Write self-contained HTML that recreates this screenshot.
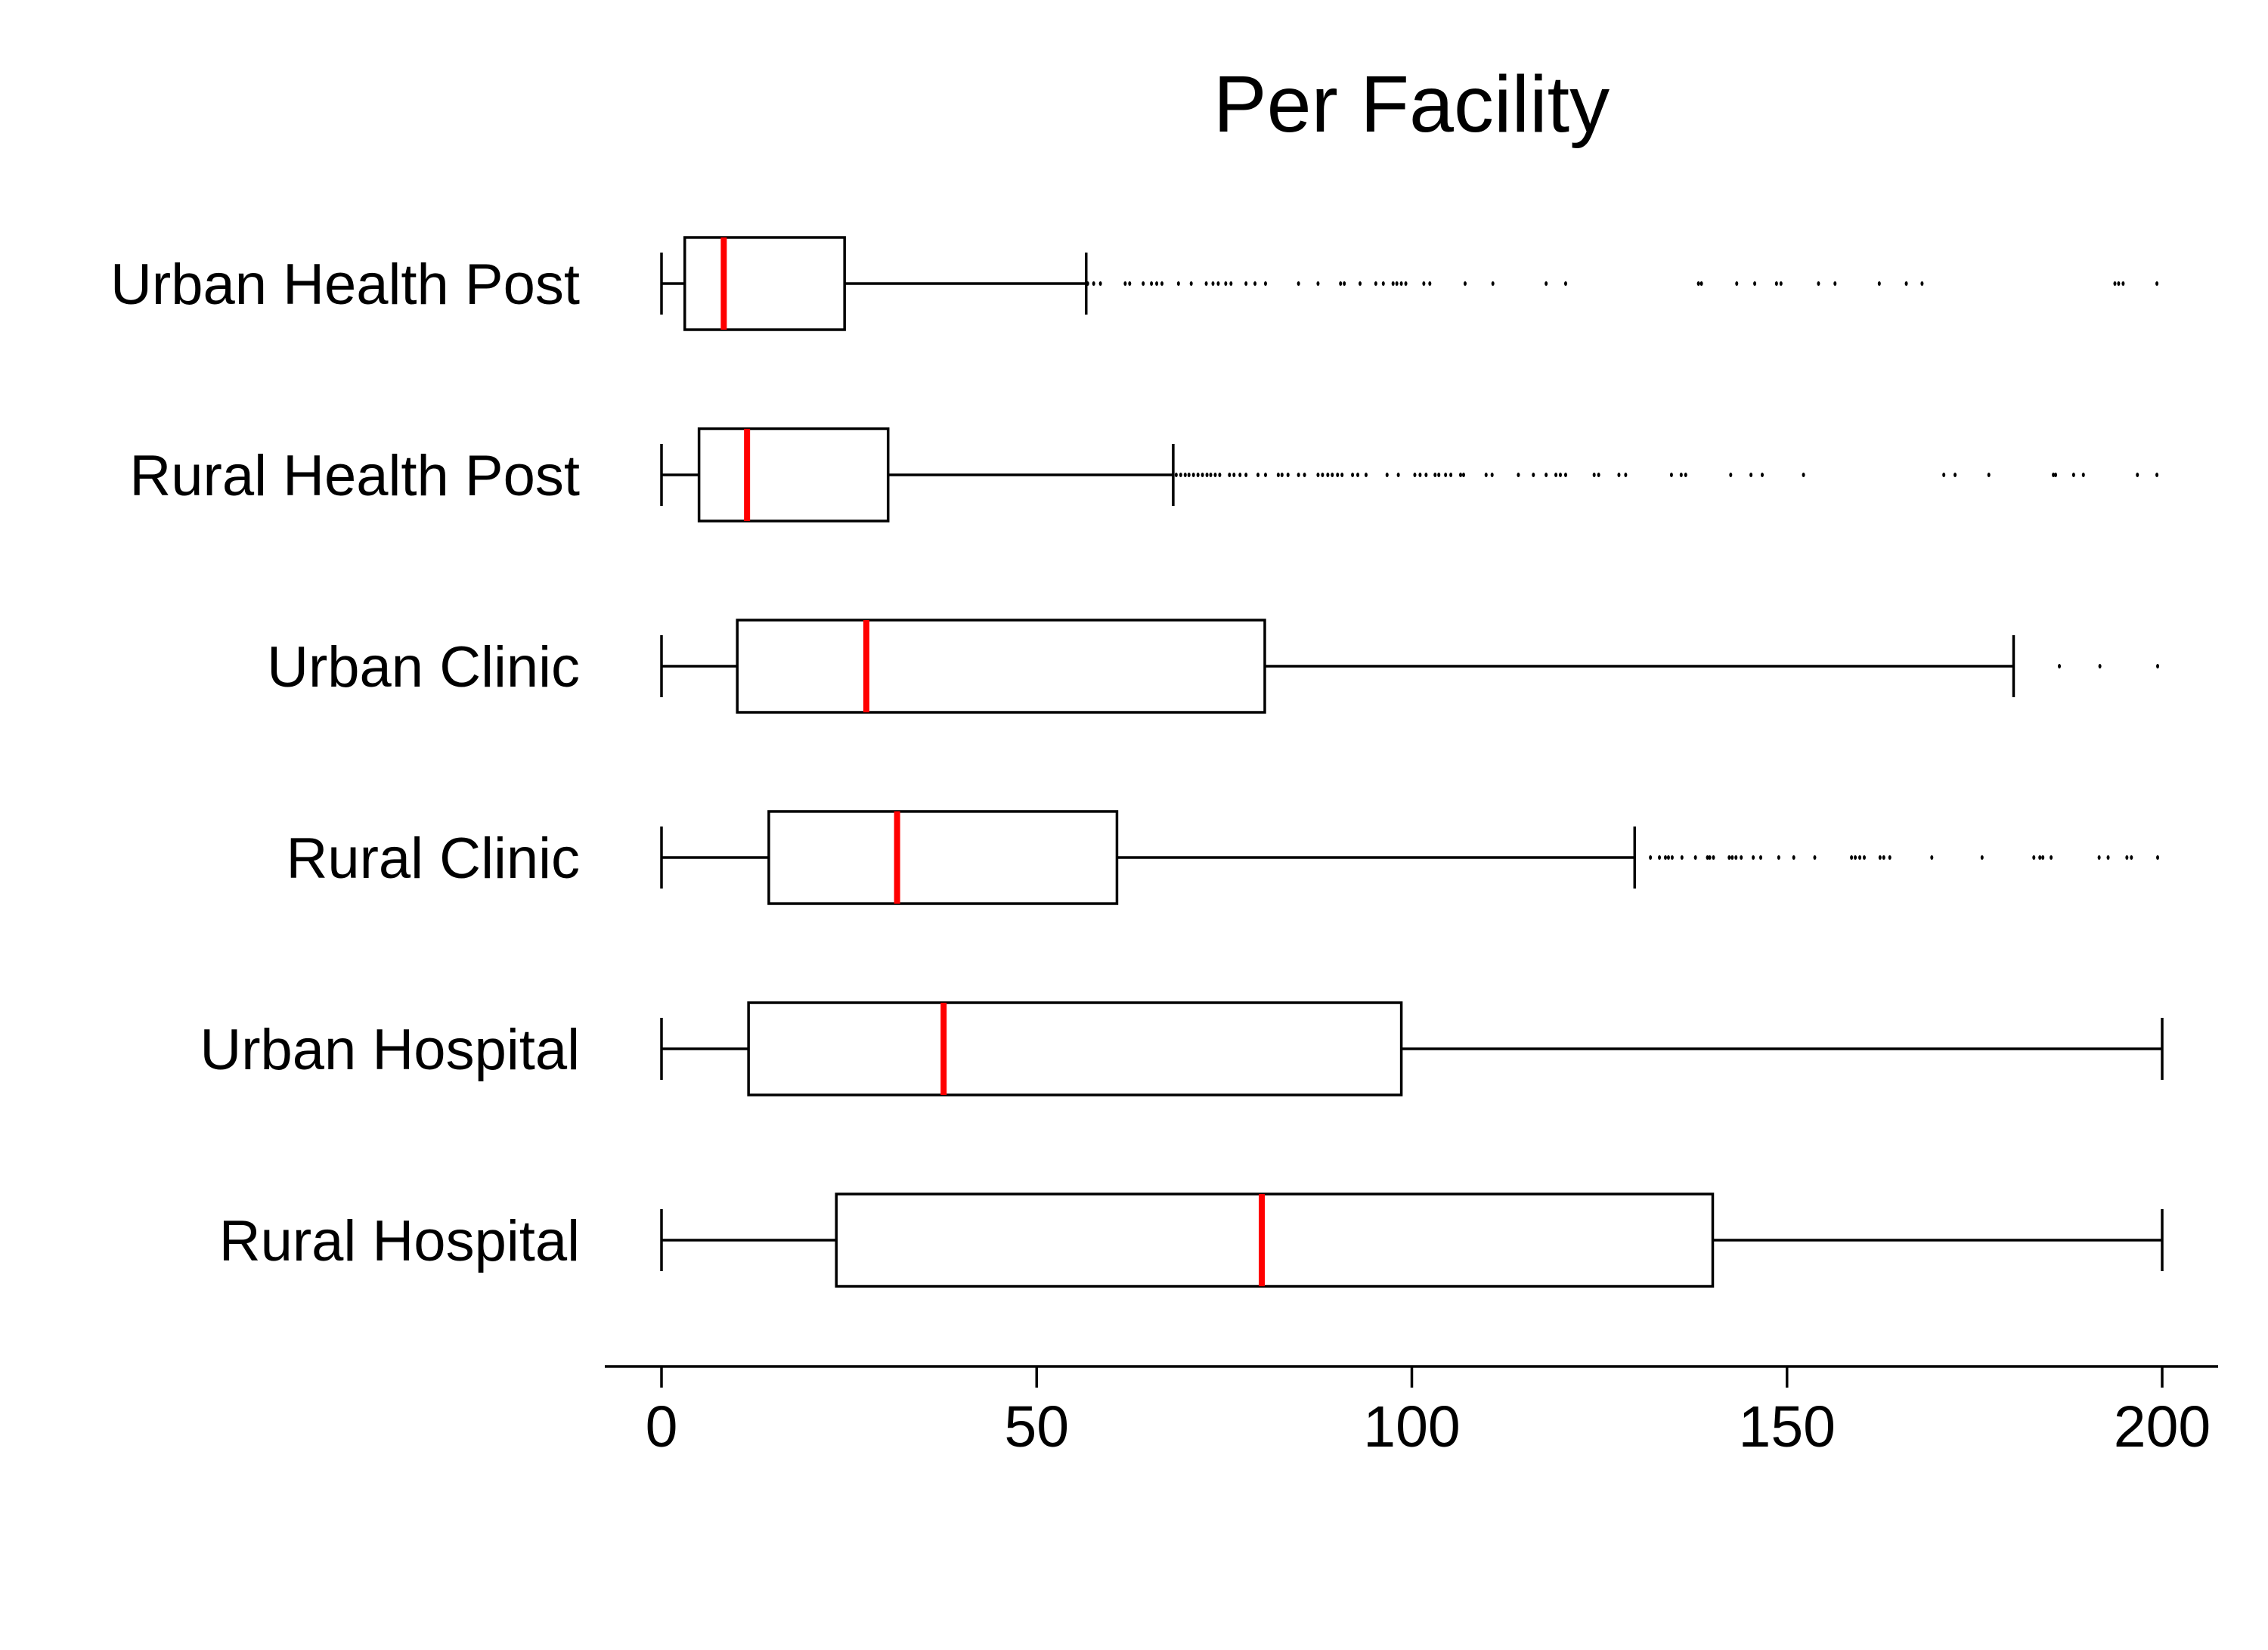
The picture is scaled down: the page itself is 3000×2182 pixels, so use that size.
<!DOCTYPE html>
<html><head><meta charset="utf-8"><style>
html,body{margin:0;padding:0;background:#fff;}
svg{display:block;font-family:"Liberation Sans",Arial,sans-serif;}
</style></head><body>
<svg id="chart" width="3000" height="2182" viewBox="0 0 3000 2182">
<text x="1867" y="174" font-size="106" text-anchor="middle">Per Facility</text>
<g id="plot"></g>
<g id="xaxis"></g>
</svg>
<script>
const categories = ["Urban Health Post","Rural Health Post","Urban Clinic","Rural Clinic","Urban Hospital","Rural Hospital"];
const mins = [0,0,0,0,0,0];
const q1s = [3.1,5.0,10.1,14.3,11.6,23.3];
const medians = [8.3,11.4,27.3,31.4,37.6,80.0];
const q3s = [24.4,30.2,80.4,60.7,98.6,140.1];
const maxs = [56.6,68.2,180.2,129.7,200,200];
const outliers0 = [56.8,57.6,58.5,61.8,62.4,64.2,65.3,66,66.7,68.9,70.6,72.6,73.5,74.2,75.2,75.9,77.9,79.1,80.5,84.9,87.5,90.5,91,93.1,95.2,96.2,97.5,98,98.6,99.2,101.6,102.4,107.1,110.8,117.9,120.5,138.2,138.6,143.3,145.7,148.6,149.2,154.2,156.4,162.3,165.9,168,193.7,194.2,194.8,199.3];
const outliers1 = [68.6,69.2,69.8,70.3,70.9,71.5,72.1,72.7,73.2,73.8,74.4,75.7,76.3,77.1,77.9,79.5,80.5,82.2,82.7,83.5,84.9,85.7,87.5,88.1,88.8,89.4,90.1,90.7,92.1,92.8,93.9,96.7,98.2,100.4,101.1,101.9,103.1,103.6,104.5,105.2,106.5,106.9,109.9,110.7,114.2,116.2,117.9,119.2,119.8,120.5,124.3,124.9,127.6,128.5,134.6,135.9,136.5,142.5,145.2,146.7,152.2,170.9,172.4,176.9,185.5,185.8,188.2,189.5,196.7,199.3];
const outliers2 = [186.3,191.7,199.4];
const outliers3 = [131.8,133,133.8,134.2,134.7,136,137.8,139.4,139.7,140.2,142.3,142.7,143.2,143.9,145.5,146.5,148.9,150.9,153.7,158.6,159.1,159.7,160.3,162.4,162.9,163.7,169.3,176,182.9,183.7,184.1,185.2,191.6,192.8,195.3,195.9,199.4];
const outliers4 = [];
const outliers5 = [];
const outliersAll = [outliers0,outliers1,outliers2,outliers3,outliers4,outliers5];
const tickValues = [0,50,100,150,200];
const tickLabels = ["0","50","100","150","200"];

const NS="http://www.w3.org/2000/svg";
const xs = v => 875 + v*9.925;
const ys = i => 375 + i*253;
function mk(tag, attrs, parent){const e=document.createElementNS(NS,tag);for(const k in attrs)e.setAttribute(k,attrs[k]);parent.appendChild(e);return e;}
const plot=document.getElementById('plot');
const xaxis=document.getElementById('xaxis');
const hb=61, hc=41;
categories.forEach((c,i)=>{
  const y=ys(i);
  const g=mk('g',{},plot);
  
  
  const lab=mk('text',{x:767,y:y+27,'font-size':76,'text-anchor':'end'},g);
  lab.textContent=c;
  
  
  const st={stroke:'#000','stroke-width':3.5,fill:'none'};
  const w1=mk('line',Object.assign({x1:xs(mins[i]),x2:xs(q1s[i]),y1:y,y2:y},st),g);
  
  
  const c1=mk('line',Object.assign({x1:xs(mins[i]),x2:xs(mins[i]),y1:y-hc,y2:y+hc},st),g);
  
  
  const w2=mk('line',Object.assign({x1:xs(q3s[i]),x2:xs(maxs[i]),y1:y,y2:y},st),g);
  
  
  const c2=mk('line',Object.assign({x1:xs(maxs[i]),x2:xs(maxs[i]),y1:y-hc,y2:y+hc},st),g);
  
  
  const r=mk('rect',Object.assign({x:xs(q1s[i]),y:y-hb,width:xs(q3s[i])-xs(q1s[i]),height:2*hb},st),g);
  
  
  const m=mk('line',{x1:xs(medians[i]),x2:xs(medians[i]),y1:y-hb,y2:y+hb,stroke:'#ff0000','stroke-width':8},g);
  
  
  outliersAll[i].forEach(v=>{
    const d=mk('ellipse',{cx:xs(v),cy:y,rx:2,ry:3,fill:'#000'},g);
    
    
  });
});
const ax=mk('line',{x1:800,x2:2934,y1:1807,y2:1807,stroke:'#000','stroke-width':3.5},xaxis);


tickValues.forEach((v,k)=>{
  const t=mk('line',{x1:xs(v),x2:xs(v),y1:1807,y2:1835,stroke:'#000','stroke-width':3.5},xaxis);
  
  
  const l=mk('text',{x:xs(v),y:1913,'font-size':77,'text-anchor':'middle'},xaxis);
  l.textContent=tickLabels[k];
  
  
});
</script>
</body></html>
